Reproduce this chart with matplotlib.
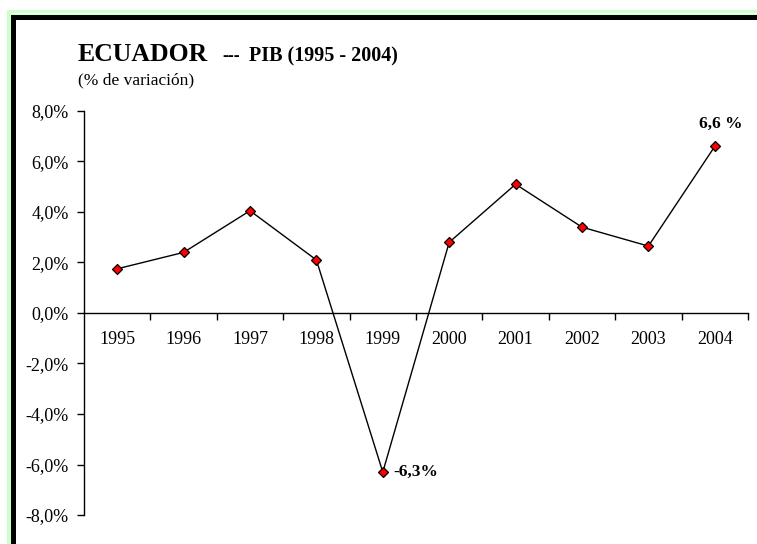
import matplotlib
matplotlib.use('Agg')
import matplotlib.pyplot as plt
from matplotlib.patches import Rectangle
from matplotlib.ticker import FuncFormatter, FixedLocator

years = ['1995', '1996', '1997', '1998', '1999', '2000', '2001', '2002', '2003', '2004']
pib = [1.75, 2.4, 4.05, 2.1, -6.3, 2.8, 5.1, 3.4, 2.65, 6.6]

W, H = 757, 544
plt.rcParams['font.family'] = ['Liberation Serif', 'DejaVu Serif']

fig = plt.figure(figsize=(W / 100, H / 100), dpi=100)
fig.patch.set_facecolor('white')


def frac_rect(x0, y0, x1, y1, color):
    # rectangle given in pixel coords (origin top-left)
    fig.add_artist(Rectangle((x0 / W, 1 - y1 / H), (x1 - x0) / W, (y1 - y0) / H,
                             transform=fig.transFigure, facecolor=color,
                             edgecolor='none', zorder=-10))


# frame: light green outer border, black shadow, white inside
frac_rect(7, 10, W + 5, H + 5, '#ccffcc')
frac_rect(11, 13, W + 5, H + 5, 'white')
frac_rect(11, 14, W + 5, H + 5, '#ccffcc')
frac_rect(11, 15, W + 5, H + 5, 'black')
frac_rect(16, 20, W + 5, H + 5, 'white')

ax = fig.add_axes([84 / W, 1 - 515 / H, (748 - 84) / W, (515 - 111) / H])
ax.set_facecolor('none')

x = list(range(len(years)))
ax.plot(x, pib, color='black', linewidth=1.0, marker='D', markersize=5.5,
        markerfacecolor='#ff0000', markeredgecolor='black', markeredgewidth=0.9,
        zorder=3)

ax.set_xlim(-0.5, len(years) - 0.5)
ax.set_ylim(-8, 8)

ax.spines['top'].set_visible(False)
ax.spines['right'].set_visible(False)
ax.spines['bottom'].set_position(('data', 0))
ax.spines['left'].set_linewidth(1.0)
ax.spines['bottom'].set_linewidth(1.0)

ax.set_yticks([-8, -6, -4, -2, 0, 2, 4, 6, 8])
ax.yaxis.set_major_formatter(FuncFormatter(lambda v, p: f'{v:.1f}%'.replace('.', ',')))
ax.tick_params(axis='y', direction='out', length=5, width=1, pad=6, labelsize=13)

ax.xaxis.set_major_locator(FixedLocator([i + 0.5 for i in x]))
ax.xaxis.set_major_formatter(FuncFormatter(lambda v, p: ''))
ax.xaxis.set_minor_locator(FixedLocator(x))
ax.set_xticklabels(years, minor=True)
ax.tick_params(axis='x', which='major', direction='out', length=5, width=1)
ax.tick_params(axis='x', which='minor', length=0, pad=13, labelsize=13)

ax.annotate('6,6 %', (9, 6.6), xytext=(6, 22), textcoords='offset pixels',
            ha='center', va='center', fontsize=12.5, fontweight='bold')
ax.annotate('-6,3%', (4, -6.3), xytext=(11, 0), textcoords='offset pixels',
            ha='left', va='center', fontsize=12.5, fontweight='bold')

fig.text(78 / W, 1 - 61 / H, 'ECUADOR', fontsize=18.5, fontweight='bold',
         ha='left', va='baseline')
fig.text(222 / W, 1 - 61 / H, '---', fontsize=13, fontweight='bold',
         ha='left', va='baseline')
fig.text(249 / W, 1 - 61 / H, 'PIB (1995 - 2004)', fontsize=14.5, fontweight='bold',
         ha='left', va='baseline')
fig.text(78 / W, 1 - 80 / H, '(% de variación)', fontsize=12.5,
         ha='left', va='center')

fig.savefig('out.png', dpi=100)
